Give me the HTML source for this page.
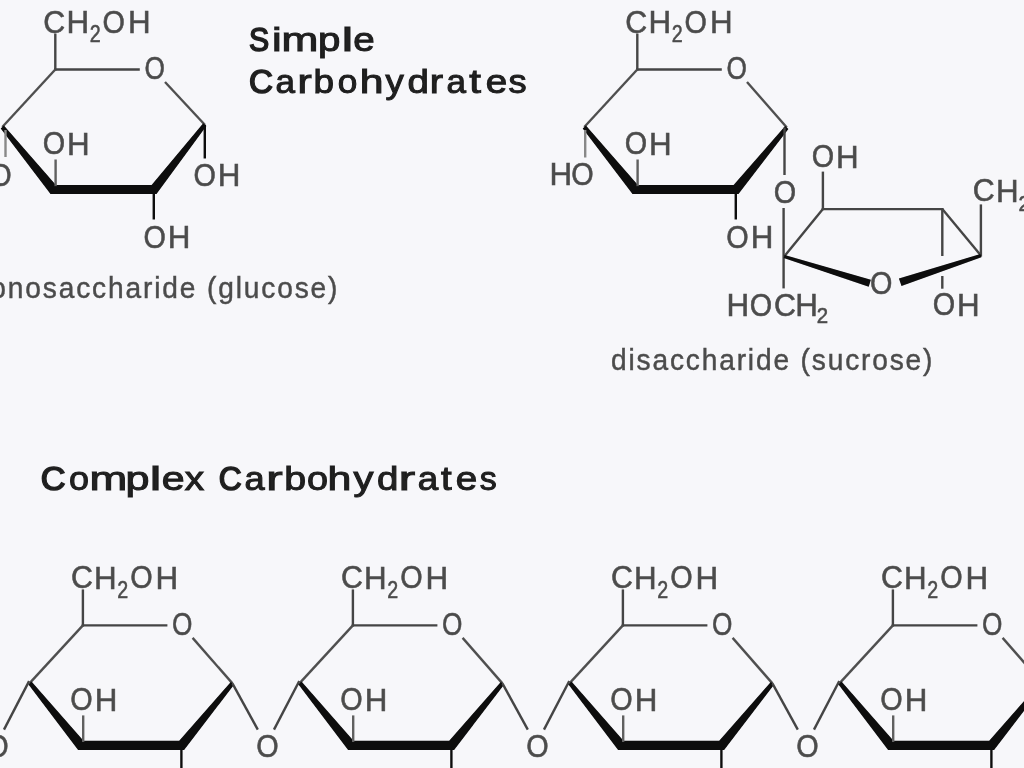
<!DOCTYPE html>
<html><head><meta charset="utf-8"><style>
html,body{margin:0;padding:0;background:#f7f7fa;width:1024px;height:768px;overflow:hidden}
svg{display:block}
text{font-family:"Liberation Sans",sans-serif}
</style></head><body>
<svg width="1024" height="768" viewBox="0 0 1024 768">
<defs><filter id="b" x="-5%" y="-5%" width="110%" height="110%"><feGaussianBlur stdDeviation="0.65"/></filter></defs>
<rect width="1024" height="768" fill="#f7f7fa"/>
<g filter="url(#b)">
<g>
<line x1="55.3" y1="33.5" x2="55.3" y2="70.7" stroke="#444444" stroke-width="2.4"/>
<line x1="54.1" y1="69.5" x2="139.8" y2="69.5" stroke="#444444" stroke-width="2.4"/>
<line x1="165.0" y1="82.0" x2="204.8" y2="124.7" stroke="#505050" stroke-width="2.4"/>
<line x1="2.3" y1="127.0" x2="55.3" y2="69.5" stroke="#505050" stroke-width="2.4"/>
<polygon points="0.7,128.4 50.5,194.1 156.5,194.1 206.4,126.1 203.2,123.3 151.6,184.9 55.9,184.9 3.9,125.6" fill="#080808"/>
<line x1="55.6" y1="159.5" x2="55.6" y2="186.2" stroke="#606060" stroke-width="2.4"/>
<line x1="204.8" y1="124.7" x2="204.8" y2="158.5" stroke="#111" stroke-width="2.4"/>
<line x1="153.8" y1="189.2" x2="153.8" y2="219.5" stroke="#111" stroke-width="2.4"/>
<line x1="5.5" y1="130.0" x2="5.5" y2="157.0" stroke="#888" stroke-width="2.4"/>
<line x1="637.3" y1="33.5" x2="637.3" y2="70.7" stroke="#444444" stroke-width="2.4"/>
<line x1="636.1" y1="69.5" x2="721.8" y2="69.5" stroke="#444444" stroke-width="2.4"/>
<line x1="747.0" y1="82.0" x2="786.8" y2="127.5" stroke="#505050" stroke-width="2.4"/>
<line x1="584.3" y1="127.0" x2="637.3" y2="69.5" stroke="#505050" stroke-width="2.4"/>
<polygon points="582.7,128.4 632.5,194.1 738.5,194.1 788.4,128.9 785.2,126.1 733.6,184.9 637.9,184.9 585.9,125.6" fill="#080808"/>
<line x1="637.6" y1="159.5" x2="637.6" y2="186.2" stroke="#606060" stroke-width="2.4"/>
<line x1="735.8" y1="189.2" x2="735.8" y2="219.5" stroke="#111" stroke-width="2.4"/>
<line x1="585.2" y1="130.0" x2="585.2" y2="157.5" stroke="#888" stroke-width="2.4"/>
<line x1="784.5" y1="127.5" x2="784.5" y2="175.0" stroke="#444444" stroke-width="2.4"/>
<line x1="783.6" y1="208.0" x2="783.6" y2="288.4" stroke="#444444" stroke-width="2.4"/>
<line x1="784.2" y1="256.5" x2="822.9" y2="209.1" stroke="#444444" stroke-width="2.4"/>
<line x1="821.7" y1="209.1" x2="943.5" y2="209.1" stroke="#444444" stroke-width="2.4"/>
<line x1="942.3" y1="209.1" x2="980.9" y2="255.6" stroke="#444444" stroke-width="2.4"/>
<line x1="822.9" y1="210.1" x2="822.9" y2="171.6" stroke="#444444" stroke-width="2.4"/>
<line x1="942.3" y1="209.1" x2="942.3" y2="256.0" stroke="#444444" stroke-width="2.4"/>
<line x1="942.3" y1="276.0" x2="942.3" y2="288.7" stroke="#444444" stroke-width="2.4"/>
<line x1="980.9" y1="256.6" x2="980.9" y2="204.4" stroke="#444444" stroke-width="2.4"/>
<polygon points="783.7,258.0 868.7,286.7 870.9,279.7 784.7,255.0" fill="#080808"/>
<polygon points="901.5,286.0 981.4,257.2 980.4,254.0 898.9,278.4" fill="#080808"/>
<line x1="82.9" y1="589.4" x2="82.9" y2="626.6" stroke="#444444" stroke-width="2.4"/>
<line x1="81.7" y1="625.4" x2="167.4" y2="625.4" stroke="#444444" stroke-width="2.4"/>
<line x1="192.6" y1="637.9" x2="232.4" y2="683.4" stroke="#505050" stroke-width="2.4"/>
<line x1="29.9" y1="682.9" x2="82.9" y2="625.4" stroke="#505050" stroke-width="2.4"/>
<polygon points="28.3,684.3 78.1,750.0 184.1,750.0 234.0,684.8 230.8,682.0 179.2,740.8 83.5,740.8 31.5,681.5" fill="#080808"/>
<line x1="83.2" y1="715.4" x2="83.2" y2="742.1" stroke="#606060" stroke-width="2.4"/>
<line x1="181.4" y1="745.1" x2="181.4" y2="775.0" stroke="#111" stroke-width="2.4"/>
<line x1="232.4" y1="683.4" x2="257.8" y2="729.6" stroke="#444444" stroke-width="2.4"/>
<line x1="274.0" y1="729.6" x2="299.3" y2="681.0" stroke="#444444" stroke-width="2.4"/>
<line x1="352.9" y1="589.4" x2="352.9" y2="626.6" stroke="#444444" stroke-width="2.4"/>
<line x1="351.7" y1="625.4" x2="437.4" y2="625.4" stroke="#444444" stroke-width="2.4"/>
<line x1="462.6" y1="637.9" x2="502.4" y2="683.4" stroke="#505050" stroke-width="2.4"/>
<line x1="299.9" y1="682.9" x2="352.9" y2="625.4" stroke="#505050" stroke-width="2.4"/>
<polygon points="298.3,684.3 348.1,750.0 454.1,750.0 504.0,684.8 500.8,682.0 449.2,740.8 353.5,740.8 301.5,681.5" fill="#080808"/>
<line x1="353.2" y1="715.4" x2="353.2" y2="742.1" stroke="#606060" stroke-width="2.4"/>
<line x1="451.4" y1="745.1" x2="451.4" y2="775.0" stroke="#111" stroke-width="2.4"/>
<line x1="502.4" y1="683.4" x2="527.8" y2="729.6" stroke="#444444" stroke-width="2.4"/>
<line x1="544.0" y1="729.6" x2="569.3" y2="681.0" stroke="#444444" stroke-width="2.4"/>
<line x1="622.9" y1="589.4" x2="622.9" y2="626.6" stroke="#444444" stroke-width="2.4"/>
<line x1="621.7" y1="625.4" x2="707.4" y2="625.4" stroke="#444444" stroke-width="2.4"/>
<line x1="732.6" y1="637.9" x2="772.4" y2="683.4" stroke="#505050" stroke-width="2.4"/>
<line x1="569.9" y1="682.9" x2="622.9" y2="625.4" stroke="#505050" stroke-width="2.4"/>
<polygon points="568.3,684.3 618.1,750.0 724.1,750.0 774.0,684.8 770.8,682.0 719.2,740.8 623.5,740.8 571.5,681.5" fill="#080808"/>
<line x1="623.2" y1="715.4" x2="623.2" y2="742.1" stroke="#606060" stroke-width="2.4"/>
<line x1="721.4" y1="745.1" x2="721.4" y2="775.0" stroke="#111" stroke-width="2.4"/>
<line x1="772.4" y1="683.4" x2="797.8" y2="729.6" stroke="#444444" stroke-width="2.4"/>
<line x1="814.0" y1="729.6" x2="839.3" y2="681.0" stroke="#444444" stroke-width="2.4"/>
<line x1="892.9" y1="589.4" x2="892.9" y2="626.6" stroke="#444444" stroke-width="2.4"/>
<line x1="891.7" y1="625.4" x2="977.4" y2="625.4" stroke="#444444" stroke-width="2.4"/>
<line x1="1002.6" y1="637.9" x2="1042.4" y2="683.4" stroke="#505050" stroke-width="2.4"/>
<line x1="839.9" y1="682.9" x2="892.9" y2="625.4" stroke="#505050" stroke-width="2.4"/>
<polygon points="838.3,684.3 888.1,750.0 994.1,750.0 1044.0,684.8 1040.8,682.0 989.2,740.8 893.5,740.8 841.5,681.5" fill="#080808"/>
<line x1="893.2" y1="715.4" x2="893.2" y2="742.1" stroke="#606060" stroke-width="2.4"/>
<line x1="991.4" y1="745.1" x2="991.4" y2="775.0" stroke="#111" stroke-width="2.4"/>
<line x1="1042.4" y1="683.4" x2="1067.8" y2="729.6" stroke="#444444" stroke-width="2.4"/>
<line x1="1084.0" y1="729.6" x2="1109.3" y2="681.0" stroke="#444444" stroke-width="2.4"/>
<line x1="4.0" y1="729.6" x2="29.1" y2="681.1" stroke="#444444" stroke-width="2.4"/>
</g>
<g fill="#4c4c4c" stroke="#4c4c4c" stroke-width="0.55">
<text transform="translate(43.33,32.59) scale(0.95,1)" font-size="32.0">C</text>
<text transform="translate(66.47,32.90) scale(0.98,1)" font-size="32.0">H</text>
<text transform="translate(89.63,41.90) scale(0.82,1)" font-size="24.0">2</text>
<text transform="translate(102.61,32.59) scale(0.9,1)" font-size="32.0">O</text>
<text transform="translate(127.97,32.90) scale(0.98,1)" font-size="32.0">H</text>
<text transform="translate(144.50,79.29) scale(0.82,1)" font-size="32.0">O</text>
<text transform="translate(42.71,154.39) scale(0.9,1)" font-size="32.0">O</text>
<text transform="translate(67.07,154.70) scale(0.98,1)" font-size="32.0">H</text>
<text transform="translate(193.51,185.59) scale(0.9,1)" font-size="32.0">O</text>
<text transform="translate(217.87,185.90) scale(0.98,1)" font-size="32.0">H</text>
<text transform="translate(143.41,247.79) scale(0.9,1)" font-size="32.0">O</text>
<text transform="translate(167.77,248.10) scale(0.98,1)" font-size="32.0">H</text>
<text transform="translate(-10.69,185.99) scale(0.9,1)" font-size="32.0">O</text>
<text transform="translate(625.33,32.59) scale(0.95,1)" font-size="32.0">C</text>
<text transform="translate(648.47,32.90) scale(0.98,1)" font-size="32.0">H</text>
<text transform="translate(671.63,41.90) scale(0.82,1)" font-size="24.0">2</text>
<text transform="translate(684.61,32.59) scale(0.9,1)" font-size="32.0">O</text>
<text transform="translate(709.97,32.90) scale(0.98,1)" font-size="32.0">H</text>
<text transform="translate(726.50,79.29) scale(0.82,1)" font-size="32.0">O</text>
<text transform="translate(624.71,154.39) scale(0.9,1)" font-size="32.0">O</text>
<text transform="translate(649.07,154.70) scale(0.98,1)" font-size="32.0">H</text>
<text transform="translate(726.31,247.59) scale(0.9,1)" font-size="32.0">O</text>
<text transform="translate(750.67,247.90) scale(0.98,1)" font-size="32.0">H</text>
<text transform="translate(549.62,185.30) scale(0.98,1)" font-size="32.0">H</text>
<text transform="translate(571.31,184.99) scale(0.9,1)" font-size="32.0">O</text>
<text transform="translate(773.81,202.99) scale(0.9,1)" font-size="32.0">O</text>
<text transform="translate(811.71,167.39) scale(0.9,1)" font-size="32.0">O</text>
<text transform="translate(836.07,167.70) scale(0.98,1)" font-size="32.0">H</text>
<text transform="translate(932.71,315.49) scale(0.9,1)" font-size="32.0">O</text>
<text transform="translate(957.07,315.80) scale(0.98,1)" font-size="32.0">H</text>
<text transform="translate(972.83,201.29) scale(0.95,1)" font-size="32.0">C</text>
<text transform="translate(996.07,201.60) scale(0.98,1)" font-size="32.0">H</text>
<text transform="translate(1018.62,210.60) scale(0.95,1)" font-size="21.5">2</text>
<text transform="translate(870.06,293.79) scale(0.9,1)" font-size="32.0">O</text>
<text transform="translate(726.47,316.30) scale(0.98,1)" font-size="32.0">H</text>
<text transform="translate(749.66,315.99) scale(0.9,1)" font-size="32.0">O</text>
<text transform="translate(773.88,315.99) scale(0.95,1)" font-size="32.0">C</text>
<text transform="translate(795.17,316.30) scale(0.98,1)" font-size="32.0">H</text>
<text transform="translate(816.72,323.30) scale(0.95,1)" font-size="21.5">2</text>
<text transform="translate(70.93,588.49) scale(0.95,1)" font-size="32.0">C</text>
<text transform="translate(94.07,588.80) scale(0.98,1)" font-size="32.0">H</text>
<text transform="translate(117.23,597.80) scale(0.82,1)" font-size="24.0">2</text>
<text transform="translate(130.21,588.49) scale(0.9,1)" font-size="32.0">O</text>
<text transform="translate(155.57,588.80) scale(0.98,1)" font-size="32.0">H</text>
<text transform="translate(172.10,635.19) scale(0.82,1)" font-size="32.0">O</text>
<text transform="translate(70.31,710.29) scale(0.9,1)" font-size="32.0">O</text>
<text transform="translate(94.67,710.60) scale(0.98,1)" font-size="32.0">H</text>
<text transform="translate(256.16,757.49) scale(0.9,1)" font-size="32.0">O</text>
<text transform="translate(340.93,588.49) scale(0.95,1)" font-size="32.0">C</text>
<text transform="translate(364.07,588.80) scale(0.98,1)" font-size="32.0">H</text>
<text transform="translate(387.23,597.80) scale(0.82,1)" font-size="24.0">2</text>
<text transform="translate(400.21,588.49) scale(0.9,1)" font-size="32.0">O</text>
<text transform="translate(425.57,588.80) scale(0.98,1)" font-size="32.0">H</text>
<text transform="translate(442.10,635.19) scale(0.82,1)" font-size="32.0">O</text>
<text transform="translate(340.31,710.29) scale(0.9,1)" font-size="32.0">O</text>
<text transform="translate(364.67,710.60) scale(0.98,1)" font-size="32.0">H</text>
<text transform="translate(526.16,757.49) scale(0.9,1)" font-size="32.0">O</text>
<text transform="translate(610.93,588.49) scale(0.95,1)" font-size="32.0">C</text>
<text transform="translate(634.07,588.80) scale(0.98,1)" font-size="32.0">H</text>
<text transform="translate(657.23,597.80) scale(0.82,1)" font-size="24.0">2</text>
<text transform="translate(670.21,588.49) scale(0.9,1)" font-size="32.0">O</text>
<text transform="translate(695.57,588.80) scale(0.98,1)" font-size="32.0">H</text>
<text transform="translate(712.10,635.19) scale(0.82,1)" font-size="32.0">O</text>
<text transform="translate(610.31,710.29) scale(0.9,1)" font-size="32.0">O</text>
<text transform="translate(634.67,710.60) scale(0.98,1)" font-size="32.0">H</text>
<text transform="translate(796.16,757.49) scale(0.9,1)" font-size="32.0">O</text>
<text transform="translate(880.93,588.49) scale(0.95,1)" font-size="32.0">C</text>
<text transform="translate(904.07,588.80) scale(0.98,1)" font-size="32.0">H</text>
<text transform="translate(927.23,597.80) scale(0.82,1)" font-size="24.0">2</text>
<text transform="translate(940.21,588.49) scale(0.9,1)" font-size="32.0">O</text>
<text transform="translate(965.57,588.80) scale(0.98,1)" font-size="32.0">H</text>
<text transform="translate(982.10,635.19) scale(0.82,1)" font-size="32.0">O</text>
<text transform="translate(880.31,710.29) scale(0.9,1)" font-size="32.0">O</text>
<text transform="translate(904.67,710.60) scale(0.98,1)" font-size="32.0">H</text>
<text transform="translate(1066.16,757.49) scale(0.9,1)" font-size="32.0">O</text>
<text transform="translate(-13.84,757.49) scale(0.9,1)" font-size="32.0">O</text>
</g>
<g fill="#202020" stroke="#202020" stroke-width="1.0">
<text transform="translate(248.93,51.20) scale(0.930,1)" font-size="32.5" stroke-width="1.6">S</text>
<text transform="translate(272.01,51.20) scale(1.330,1)" font-size="32.5">i</text>
<text transform="translate(281.56,51.20) scale(1.361,1)" font-size="32.5">m</text>
<text transform="translate(318.10,51.20) scale(1.238,1)" font-size="32.5">p</text>
<text transform="translate(341.85,51.20) scale(1.575,1)" font-size="32.5">l</text>
<text transform="translate(353.26,51.20) scale(1.187,1)" font-size="32.5">e</text>
<text transform="translate(248.92,92.80) scale(1.020,1)" font-size="32.5" stroke-width="1.6">C</text>
<text transform="translate(275.51,92.80) scale(1.078,1)" font-size="32.5">a</text>
<text transform="translate(297.56,92.80) scale(1.317,1)" font-size="32.5">r</text>
<text transform="translate(313.42,92.80) scale(1.136,1)" font-size="32.5">b</text>
<text transform="translate(337.72,92.80) scale(1.082,1)" font-size="32.5">o</text>
<text transform="translate(359.74,92.80) scale(1.313,1)" font-size="32.5">h</text>
<text transform="translate(385.51,92.80) scale(1.124,1)" font-size="32.5">y</text>
<text transform="translate(407.48,92.80) scale(1.184,1)" font-size="32.5">d</text>
<text transform="translate(429.84,92.80) scale(1.231,1)" font-size="32.5">r</text>
<text transform="translate(446.41,92.80) scale(1.078,1)" font-size="32.5">a</text>
<text transform="translate(469.27,92.80) scale(1.289,1)" font-size="32.5">t</text>
<text transform="translate(485.76,92.80) scale(1.187,1)" font-size="32.5">e</text>
<text transform="translate(508.39,92.80) scale(1.115,1)" font-size="32.5">s</text>
<text transform="translate(40.66,490.20) scale(1.054,1)" font-size="32.5" stroke-width="1.6">C</text>
<text transform="translate(68.99,490.20) scale(1.108,1)" font-size="32.5">o</text>
<text transform="translate(89.39,490.20) scale(1.396,1)" font-size="32.5">m</text>
<text transform="translate(125.52,490.20) scale(1.327,1)" font-size="32.5">p</text>
<text transform="translate(149.80,490.20) scale(1.600,1)" font-size="32.5">l</text>
<text transform="translate(161.75,490.20) scale(1.266,1)" font-size="32.5">e</text>
<text transform="translate(184.77,490.20) scale(1.191,1)" font-size="32.5">x</text>
<text transform="translate(218.69,490.20) scale(0.977,1)" font-size="32.5" stroke-width="1.6">C</text>
<text transform="translate(244.56,490.20) scale(1.114,1)" font-size="32.5">a</text>
<text transform="translate(266.23,490.20) scale(1.514,1)" font-size="32.5">r</text>
<text transform="translate(284.26,490.20) scale(1.211,1)" font-size="32.5">b</text>
<text transform="translate(306.91,490.20) scale(1.166,1)" font-size="32.5">o</text>
<text transform="translate(327.53,490.20) scale(1.320,1)" font-size="32.5">h</text>
<text transform="translate(353.60,490.20) scale(1.229,1)" font-size="32.5">y</text>
<text transform="translate(376.98,490.20) scale(1.184,1)" font-size="32.5">d</text>
<text transform="translate(398.63,490.20) scale(1.514,1)" font-size="32.5">r</text>
<text transform="translate(417.74,490.20) scale(1.132,1)" font-size="32.5">a</text>
<text transform="translate(441.12,490.20) scale(1.181,1)" font-size="32.5">t</text>
<text transform="translate(455.86,490.20) scale(1.187,1)" font-size="32.5">e</text>
<text transform="translate(479.76,490.20) scale(1.044,1)" font-size="32.5">s</text>
</g>
<g fill="#4c4c4c" stroke="#4c4c4c" stroke-width="0.45">
<text transform="translate(-35.0,298.0) scale(0.97,1)" font-size="29" textLength="384.0" lengthAdjust="spacing">monosaccharide (glucose)</text>
<text transform="translate(611.0,369.5) scale(0.97,1)" font-size="29" textLength="331.4" lengthAdjust="spacing">disaccharide (sucrose)</text>
</g>
</g>
</svg></body></html>
